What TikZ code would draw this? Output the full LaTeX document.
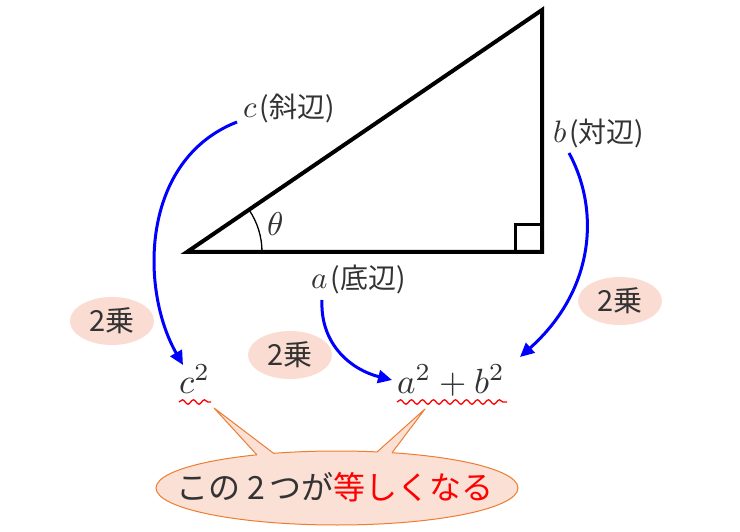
\documentclass[tikz,border=0pt]{standalone}
\usepackage{graphicx}
\usepackage{fontspec}
\newfontfamily\jp{Noto Sans CJK JP}
\usetikzlibrary{shapes.geometric,decorations.pathmorphing,arrows.meta}
\definecolor{txt}{HTML}{333333}
\definecolor{bluearr}{HTML}{0000FF}
\definecolor{pinkfill}{HTML}{FADCD2}
\definecolor{calloutfill}{HTML}{FBE0D6}
\definecolor{calloutline}{HTML}{ED7D31}
\definecolor{wavered}{HTML}{FF0000}
\newcommand\mscale[2]{\scalebox{#1}{\fontsize{10}{12}\selectfont$#2$}}
\begin{document}
\begin{tikzpicture}[x=1pt,y=-1pt,
  lbl/.style={text=txt, inner sep=0pt, font=\jp\fontsize{28}{30}\selectfont},
  mathlbl/.style={text=txt, inner sep=0pt},
  sqbubble/.style={ellipse, fill=pinkfill, minimum width=84pt, minimum height=48pt, inner sep=0pt, text=txt, font=\jp\fontsize{29}{32}\selectfont},
  arr/.style={bluearr, line width=3pt, -{Triangle[length=14pt,width=13pt]}},
  wavy/.style={wavered, line width=1.3pt, decorate, decoration={snake, segment length=11pt, amplitude=2.2pt}},
  callout/.style={fill=calloutfill, draw=calloutline, line width=1pt}
]
\useasboundingbox (0,0) rectangle (740,532);
\fill[white] (0,0) rectangle (740,532);

% triangle
\coordinate (A) at (187,252);
\coordinate (B) at (542,252);
\coordinate (C) at (542,10);
\draw[line width=4pt] (A) -- (B) -- (C) -- cycle;
\draw[line width=3pt] (B) ++(-27,0) -- ++(0,-27) -- ++(27,0);
\draw[line width=1.3pt] (A) ++(75,0) arc[start angle=0, end angle=34.1, radius=75pt];
\node[mathlbl, anchor=base west] (theta) at (267,236) {\mscale{3.3}{\theta}};

% side labels
\node[lbl, anchor=base west] (cl) at (243,118) {\mscale{3.1}{c}\kern3pt(斜辺)};
\node[lbl, anchor=base west] (bl) at (553,143) {\mscale{3.1}{b}\kern3pt(対辺)};
\node[lbl, anchor=base west] (al) at (311,288) {\mscale{3.1}{a}\kern3pt(底辺)};

% squared bubbles
\node[sqbubble] (sqc) at (112,321) {2乗};
\node[sqbubble] (sqa) at (290,355) {2乗};
\node[sqbubble] (sqb) at (620,301) {2乗};

% results
\node[mathlbl, anchor=base west] (c2) at (179,393) {\mscale{3.5}{c^2}};
\node[mathlbl, anchor=base west] (ab2) at (397,393) {\mscale{3.5}{a^2+b^2}};

% wavy underlines
\coordinate (wc1) at (179,402); \coordinate (wc2) at (211,402);
\coordinate (wa1) at (397,402); \coordinate (wa2) at (507,402);
\draw[wavy] (wc1) -- (wc2);
\draw[wavy] (wa1) -- (wa2);

% arrows
\coordinate (cs) at (237,122); \coordinate (ce) at (183,365);
\coordinate (bs) at (569,153); \coordinate (be) at (520,357);
\coordinate (as) at (322,300); \coordinate (ae) at (392,380);
\draw[arr] (cs) .. controls (140,160) and (140,290) .. (ce);
\draw[arr] (bs) .. controls (600,210) and (595,290) .. (be);
\draw[arr] (as) .. controls (320,345) and (352,370) .. (ae);

% callout
\coordinate (tipL) at (214,408);
\coordinate (tipR) at (425,409);
\coordinate (eL1) at (257,455); \coordinate (eL2) at (274,453.6);
\coordinate (eR1) at (377,452); \coordinate (eR2) at (392,452.8);
\coordinate (iL1) at (257,462); \coordinate (iL2) at (274,462);
\coordinate (iR1) at (377,462); \coordinate (iR2) at (392,462);
\node[callout, ellipse, minimum width=362pt, minimum height=74pt, inner sep=0pt] (co) at (337,488) {};
\fill[calloutfill] (tipL) -- (eL1) -- (iL1) -- (iL2) -- (eL2) -- cycle;
\fill[calloutfill] (tipR) -- (eR1) -- (iR1) -- (iR2) -- (eR2) -- cycle;
\draw[calloutline, line width=1pt, line join=round] (eL1) -- (tipL) -- (eL2);
\draw[calloutline, line width=1pt, line join=round] (eR1) -- (tipR) -- (eR2);
\node[text=txt, inner sep=0pt, font=\jp\fontsize{32}{34}\selectfont] (ct) at (335,487) {この 2\kern5pt つが\textcolor{wavered}{等しくなる}};
\end{tikzpicture}
\end{document}
